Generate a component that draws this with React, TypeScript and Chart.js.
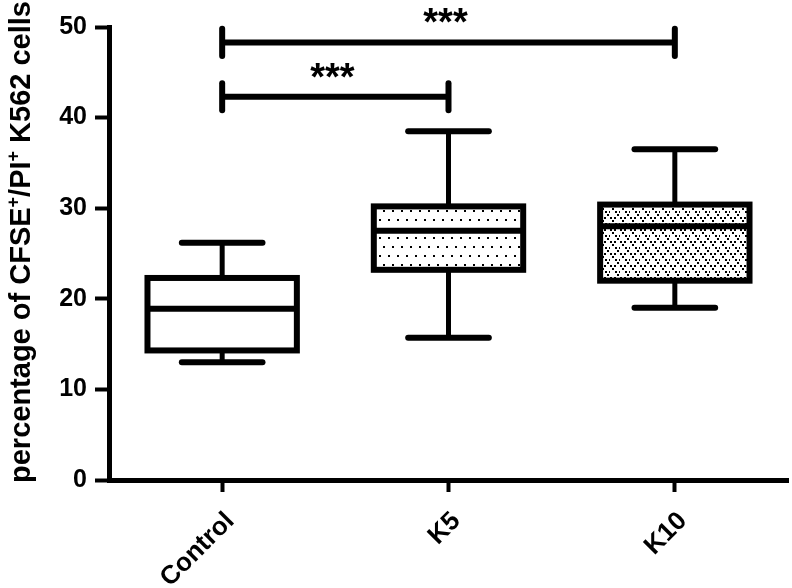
import React, { useEffect, useRef } from "react";
import { Chart, registerables } from "chart.js";

Chart.register(...registerables);

// ---- data ----
const categories = ["Control", "K5", "K10"];
const whiskerLow = [13.0, 15.7, 19.0];
const q1 = [14.3, 23.2, 22.0];
const medians = [18.9, 27.5, 28.0];
const q3 = [22.3, 30.2, 30.4];
const whiskerHigh = [26.2, 38.5, 36.5];

const yMin = 0;
const yMax = 50;
const yStep = 10;

const sigFrom = [0, 0];
const sigTo = [1, 2];
const sigLevel = [42.3, 48.3];
const sigLabel = ["***", "***"];
const sigCapHalf = 1.5;

const FONT = "'Liberation Sans', Arial, Helvetica, sans-serif";

function makeDotPattern(): CanvasPattern | string {
  const c = document.createElement("canvas");
  c.width = 9;
  c.height = 18;
  const g = c.getContext("2d");
  if (!g) return "#fff";
  g.fillStyle = "#fff";
  g.fillRect(0, 0, 9, 18);
  g.fillStyle = "#000";
  g.fillRect(1, 3, 2, 2);
  g.fillRect(5, 12, 2, 2);
  const p = g.createPattern(c, "repeat");
  return p || "#fff";
}

function makeVPattern(): CanvasPattern | string {
  const c = document.createElement("canvas");
  c.width = 10;
  c.height = 12;
  const g = c.getContext("2d");
  if (!g) return "#fff";
  g.fillStyle = "#fff";
  g.fillRect(0, 0, 10, 12);
  g.fillStyle = "#000";
  const v = (ox: number, oy: number) => {
    g.fillRect(ox, oy, 2, 2);
    g.fillRect(ox + 4, oy, 2, 2);
    g.fillRect(ox + 2, oy + 3, 2, 2);
  };
  v(0, 1);
  v(5, 7);
  const p = g.createPattern(c, "repeat");
  return p || "#fff";
}

const boxPartsPlugin = {
  id: "boxParts",
  afterDatasetsDraw(chart: any) {
    const { ctx, scales } = chart;
    const x = scales.x;
    const y = scales.y;
    const meta = chart.getDatasetMeta(0);
    const line = (x1: number, y1: number, x2: number, y2: number) => {
      ctx.beginPath();
      ctx.moveTo(x1, y1);
      ctx.lineTo(x2, y2);
      ctx.stroke();
    };
    ctx.save();
    ctx.strokeStyle = "#000";
    meta.data.forEach((bar: any, i: number) => {
      const cx = bar.x;
      const w = bar.width;
      const capHalf = w * 0.27;
      const yMed = y.getPixelForValue(medians[i]);
      const yQ1 = y.getPixelForValue(q1[i]);
      const yQ3 = y.getPixelForValue(q3[i]);
      const yLo = y.getPixelForValue(whiskerLow[i]);
      const yHi = y.getPixelForValue(whiskerHigh[i]);
      ctx.lineJoin = "miter";
      ctx.lineCap = "butt";
      ctx.lineWidth = 6;
      ctx.strokeRect(cx - w / 2, yQ3, w, yQ1 - yQ3);
      line(cx - w / 2, yMed, cx + w / 2, yMed);
      ctx.lineWidth = 5;
      line(cx, yQ3, cx, yHi);
      line(cx, yQ1, cx, yLo);
      ctx.lineWidth = 6;
      ctx.lineCap = "round";
      line(cx - capHalf, yHi, cx + capHalf, yHi);
      line(cx - capHalf, yLo, cx + capHalf, yLo);
    });

    sigLevel.forEach((lvl, k) => {
      const xa = x.getPixelForValue(sigFrom[k]);
      const xb = x.getPixelForValue(sigTo[k]);
      const yy = y.getPixelForValue(lvl);
      const yTop = y.getPixelForValue(lvl + sigCapHalf);
      const yBot = y.getPixelForValue(lvl - sigCapHalf);
      ctx.lineWidth = 6;
      ctx.lineCap = "butt";
      line(xa, yy, xb, yy);
      ctx.lineCap = "round";
      line(xa, yTop, xa, yBot);
      line(xb, yTop, xb, yBot);
      ctx.fillStyle = "#000";
      ctx.font = `bold 38px ${FONT}`;
      ctx.textAlign = "center";
      ctx.textBaseline = "alphabetic";
      ctx.fillText(sigLabel[k], (xa + xb) / 2 - 3, yy - 7);
    });
    ctx.restore();
  },
};

const yTitlePlugin = {
  id: "yTitleSup",
  afterDraw(chart: any) {
    const { ctx } = chart;
    const parts = [
      { t: "percentage of CFSE", sup: false },
      { t: "+", sup: true },
      { t: "/PI", sup: false },
      { t: "+", sup: true },
      { t: " K562 cells", sup: false },
    ];
    const mainFont = `bold 29px ${FONT}`;
    const supFont = `bold 18px ${FONT}`;
    ctx.save();
    let total = 0;
    const widths = parts.map((p) => {
      ctx.font = p.sup ? supFont : mainFont;
      const w = ctx.measureText(p.t).width;
      total += w;
      return w;
    });
    ctx.translate(20, 242);
    ctx.rotate(-Math.PI / 2);
    ctx.fillStyle = "#000";
    ctx.textAlign = "left";
    ctx.textBaseline = "alphabetic";
    let cx = -total / 2;
    const baseY = 10;
    parts.forEach((p, i) => {
      ctx.font = p.sup ? supFont : mainFont;
      ctx.fillText(p.t, cx, p.sup ? baseY - 11 : baseY);
      cx += widths[i];
    });
    ctx.restore();
  },
};

export default function App() {
  const ref = useRef<HTMLCanvasElement | null>(null);

  useEffect(() => {
    if (!ref.current) return;
    const boxData = categories.map((_, i) => [q1[i], q3[i]]);
    const chart = new Chart(ref.current, {
      type: "bar",
      data: {
        labels: categories,
        datasets: [
          {
            data: boxData as any,
            backgroundColor: ["#ffffff", makeDotPattern(), makeVPattern()] as any,
            borderWidth: 0,
            barPercentage: 0.66,
            categoryPercentage: 1,
          },
        ],
      },
      options: {
        responsive: false,
        animation: false,
        events: [],
        layout: { padding: { top: 27, right: 4, left: 0, bottom: 0 } },
        plugins: {
          legend: { display: false },
          tooltip: { enabled: false },
          title: { display: false },
        },
        scales: {
          x: {
            type: "category",
            offset: true,
            grid: {
              display: true,
              drawOnChartArea: false,
              drawTicks: true,
              tickLength: 12,
              tickWidth: 4,
              color: "#000",
              offset: false,
            },
            border: { display: true, width: 5, color: "#000" },
            ticks: {
              color: "#000",
              font: { family: FONT, size: 26, weight: "bold" },
              minRotation: 45,
              maxRotation: 45,
              padding: 14,
              labelOffset: 8,
            },
            afterFit: (s: any) => {
              s.height = 108;
            },
          },
          y: {
            min: yMin,
            max: yMax,
            grid: {
              display: true,
              drawOnChartArea: false,
              drawTicks: true,
              tickLength: 14,
              tickWidth: 4,
              color: "#000",
            },
            border: { display: true, width: 5, color: "#000" },
            ticks: {
              stepSize: yStep,
              color: "#000",
              font: { family: FONT, size: 25, weight: "bold" },
              padding: 8,
            },
            afterFit: (s: any) => {
              s.width = 109;
            },
          },
        },
      } as any,
      plugins: [boxPartsPlugin, yTitlePlugin],
    });
    return () => chart.destroy();
  }, []);

  return (
    <div style={{ position: "fixed", left: 0, top: 0, width: 792, height: 588, background: "#fff" }}>
      <canvas ref={ref} width={792} height={588} style={{ display: "block" }} />
    </div>
  );
}
